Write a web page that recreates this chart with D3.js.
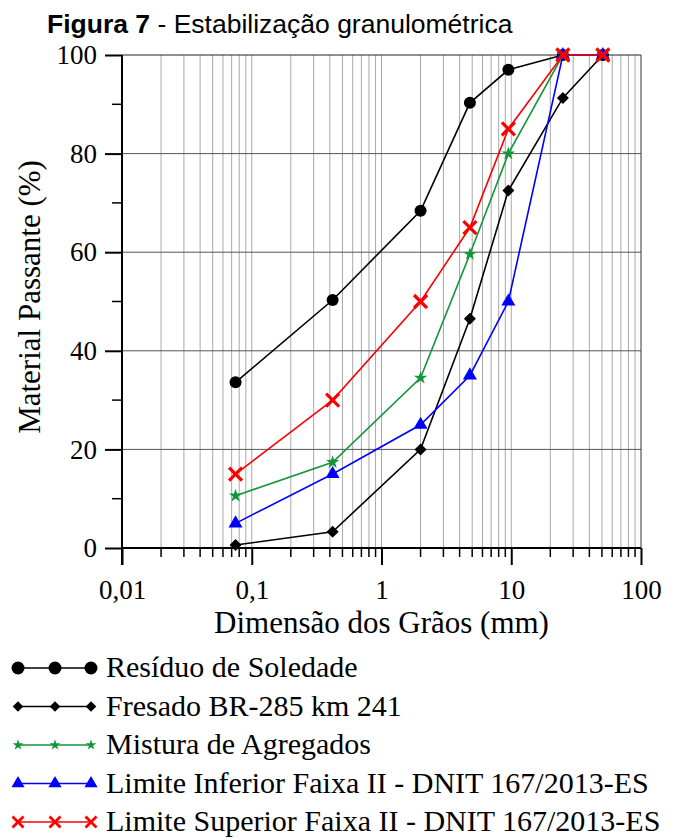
<!DOCTYPE html>
<html>
<head>
<meta charset="utf-8">
<script src="https://cdn.jsdelivr.net/npm/d3@7"></script>
<style>
  body { margin: 0; background: #fff; }
  svg { display: block; }
</style>
</head>
<body>
<svg width="684" height="839"></svg>
<script>
// sieve openings (mm)
var sieves = [0.075, 0.42, 2.0, 4.8, 9.5, 25, 50.8];

var residuo = [33.6, 50.3, 68.4, 90.3, 97.0, 100, 100];
var fresado = [0.6, 3.3, 20.0, 46.5, 72.5, 91.3, 100];
var mistura = [10.6, 17.4, 34.5, 59.6, 80.0, 100, 100];
var limInf = [5, 15, 25, 35, 50, 100, 100];
var limSup = [15, 30, 50, 65, 85, 100, 100];

var xTickValues = [0.01, 0.1, 1, 10, 100];
var xTickLabels = ["0,01", "0,1", "1", "10", "100"];
var yTickValues = [0, 20, 40, 60, 80, 100];

var seriesNames = [
    "Resíduo de Soledade",
    "Fresado BR-285 km 241",
    "Mistura de Agregados",
    "Limite Inferior Faixa II - DNIT 167/2013-ES",
    "Limite Superior Faixa II - DNIT 167/2013-ES"
];

var series = [
    { name: seriesNames[0], values: residuo, color: "black", marker: "circle" },
    { name: seriesNames[1], values: fresado, color: "black", marker: "diamond" },
    { name: seriesNames[2], values: mistura, color: "#13963a", marker: "star" },
    { name: seriesNames[3], values: limInf, color: "#0000ff", marker: "triangle" },
    { name: seriesNames[4], values: limSup, color: "#ff0000", marker: "cross" }
];

var serif = "'Liberation Serif', 'Times New Roman', serif";

var svg = d3.select("svg");

var xScale = d3.scaleLog().domain([0.01, 100]).range([122, 641]);
var yScale = d3.scaleLinear().domain([0, 100]).range([548, 55]);

// minor positions 2..9 of each decade
var minorX = [];
[0.01, 0.1, 1, 10].forEach(function (d) {
    for (var k = 2; k <= 9; k++) minorX.push(d * k);
});

// Vertical grid
svg.append("g")
    .selectAll("line")
    .data(minorX.concat([0.1, 1, 10]))
    .enter()
    .append("line")
    .attr("x1", d => xScale(d))
    .attr("x2", d => xScale(d))
    .attr("y1", yScale(0))
    .attr("y2", yScale(100))
    .style("stroke", "#a8a8a8")
    .style("stroke-width", 1);

// Horizontal grid
svg.append("g")
    .selectAll("line")
    .data([20, 40, 60, 80, 100])
    .enter()
    .append("line")
    .attr("x1", xScale(0.01))
    .attr("x2", xScale(100))
    .attr("y1", d => yScale(d))
    .attr("y2", d => yScale(d))
    .style("stroke", d => d == 100 ? "#222" : "#555")
    .style("stroke-width", 1);

// Right border
svg.append("line")
    .attr("x1", xScale(100))
    .attr("x2", xScale(100))
    .attr("y1", yScale(0))
    .attr("y2", yScale(100))
    .style("stroke", "#333")
    .style("stroke-width", 1);

// X axis
var xAxis = d3.axisBottom(xScale)
    .tickValues(xTickValues)
    .tickSize(17)
    .tickPadding(15)
    .tickFormat((d, i) => xTickLabels[i]);

var xAxisG = svg.append("g")
    .attr("transform", "translate(0," + yScale(0) + ")")
    .call(xAxis)
    .attr("font-family", serif)
    .attr("font-size", 27);

xAxisG.select(".domain").remove();
xAxisG.selectAll(".tick line").style("stroke", "black").style("stroke-width", 2);
xAxisG.selectAll(".tick text")
    .attr("fill", "black")
    .style("font-family", serif);

xAxisG.append("g")
    .selectAll("line")
    .data(minorX)
    .enter()
    .append("line")
    .attr("x1", d => xScale(d))
    .attr("x2", d => xScale(d))
    .attr("y1", 0)
    .attr("y2", 9)
    .style("stroke", "black")
    .style("stroke-width", 1.5);

xAxisG.append("line")
    .attr("x1", xScale(0.01))
    .attr("x2", xScale(100))
    .attr("y1", 0)
    .attr("y2", 0)
    .style("stroke", "black")
    .style("stroke-width", 2);

// Y axis
var yAxis = d3.axisLeft(yScale)
    .tickValues(yTickValues)
    .tickSize(17)
    .tickPadding(8);

var yAxisG = svg.append("g")
    .attr("transform", "translate(" + xScale(0.01) + ",0)")
    .call(yAxis)
    .attr("font-family", serif)
    .attr("font-size", 27);

yAxisG.select(".domain").remove();
yAxisG.selectAll(".tick line").style("stroke", "black").style("stroke-width", 2);
yAxisG.selectAll(".tick text")
    .attr("fill", "black")
    .style("font-family", serif);

yAxisG.append("g")
    .selectAll("line")
    .data([10, 30, 50, 70, 90])
    .enter()
    .append("line")
    .attr("x1", -10)
    .attr("x2", 0)
    .attr("y1", d => yScale(d))
    .attr("y2", d => yScale(d))
    .style("stroke", "black")
    .style("stroke-width", 1.5);

yAxisG.append("line")
    .attr("x1", 0)
    .attr("x2", 0)
    .attr("y1", yScale(100))
    .attr("y2", yScale(0) + 17)
    .style("stroke", "black")
    .style("stroke-width", 2);

// Axis titles
svg.append("text")
    .attr("x", xScale(1))
    .attr("y", 633)
    .attr("text-anchor", "middle")
    .attr("font-family", serif)
    .attr("font-size", 31)
    .text("Dimensão dos Grãos (mm)");

svg.append("text")
    .attr("transform", "translate(40,297) rotate(-90)")
    .attr("text-anchor", "middle")
    .attr("font-family", serif)
    .attr("font-size", 31)
    .text("Material Passante (%)");

// Title
var title = svg.append("text")
    .attr("x", 47)
    .attr("y", 33)
    .attr("font-family", "'Liberation Sans', Arial, sans-serif")
    .attr("font-size", 26.5);
title.append("tspan").attr("font-weight", "bold").text("Figura 7");
title.append("tspan").text(" - Estabilização granulométrica");

// Markers
function drawMarker(g, type, color, big) {
    if (type == "circle") {
        g.append("circle").attr("r", big ? 6 : 6.5).style("fill", color);
    } else if (type == "diamond") {
        g.append("path")
            .attr("d", d3.symbol().type(d3.symbolSquare).size(big ? 72 : 56)())
            .attr("transform", "rotate(45)")
            .style("fill", color);
    } else if (type == "star") {
        g.append("path")
            .attr("d", d3.symbol().type(d3.symbolStar).size(big ? 55 : 36)())
            .style("fill", color);
    } else if (type == "triangle") {
        g.append("path")
            .attr("d", d3.symbol().type(d3.symbolTriangle).size(big ? 85 : 75)())
            .style("fill", color);
    } else if (type == "cross") {
        var r = big ? 6.5 : 5.5;
        g.append("path")
            .attr("d", "M" + (-r) + "," + (-r) + "L" + r + "," + r + "M" + (-r) + "," + r + "L" + r + "," + (-r))
            .style("stroke", color)
            .style("stroke-width", big ? 3.2 : 2.8)
            .style("fill", "none");
    }
}

var line = d3.line()
    .x(d => xScale(d.x))
    .y(d => yScale(d.y));

series.forEach(function (s) {
    var pts = sieves.map((x, i) => ({ x: x, y: s.values[i] }));
    var g = svg.append("g");
    g.append("path")
        .attr("d", line(pts))
        .style("fill", "none")
        .style("stroke", s.color)
        .style("stroke-width", 1.6);
    g.selectAll("g.mk")
        .data(pts)
        .enter()
        .append("g")
        .attr("class", "mk")
        .attr("transform", d => "translate(" + xScale(d.x) + "," + yScale(d.y) + ")")
        .each(function () { drawMarker(d3.select(this), s.marker, s.color, true); });
});

// Legend
var legendY = d3.scaleLinear().domain([0, 4]).range([668, 822]);
var legendMarks = [18, 55, 91];

series.forEach(function (s, i) {
    var g = svg.append("g").attr("transform", "translate(0," + legendY(i) + ")");
    g.append("line")
        .attr("x1", legendMarks[0])
        .attr("x2", legendMarks[2])
        .style("stroke", s.color)
        .style("stroke-width", 1.6);
    legendMarks.forEach(function (mx) {
        var m = g.append("g").attr("transform", "translate(" + mx + ",0)");
        drawMarker(m, s.marker, s.color, false);
    });
    g.append("text")
        .attr("x", 106)
        .attr("y", 9)
        .attr("font-family", serif)
        .attr("font-size", 30)
        .text(s.name);
});
</script>
</body>
</html>
